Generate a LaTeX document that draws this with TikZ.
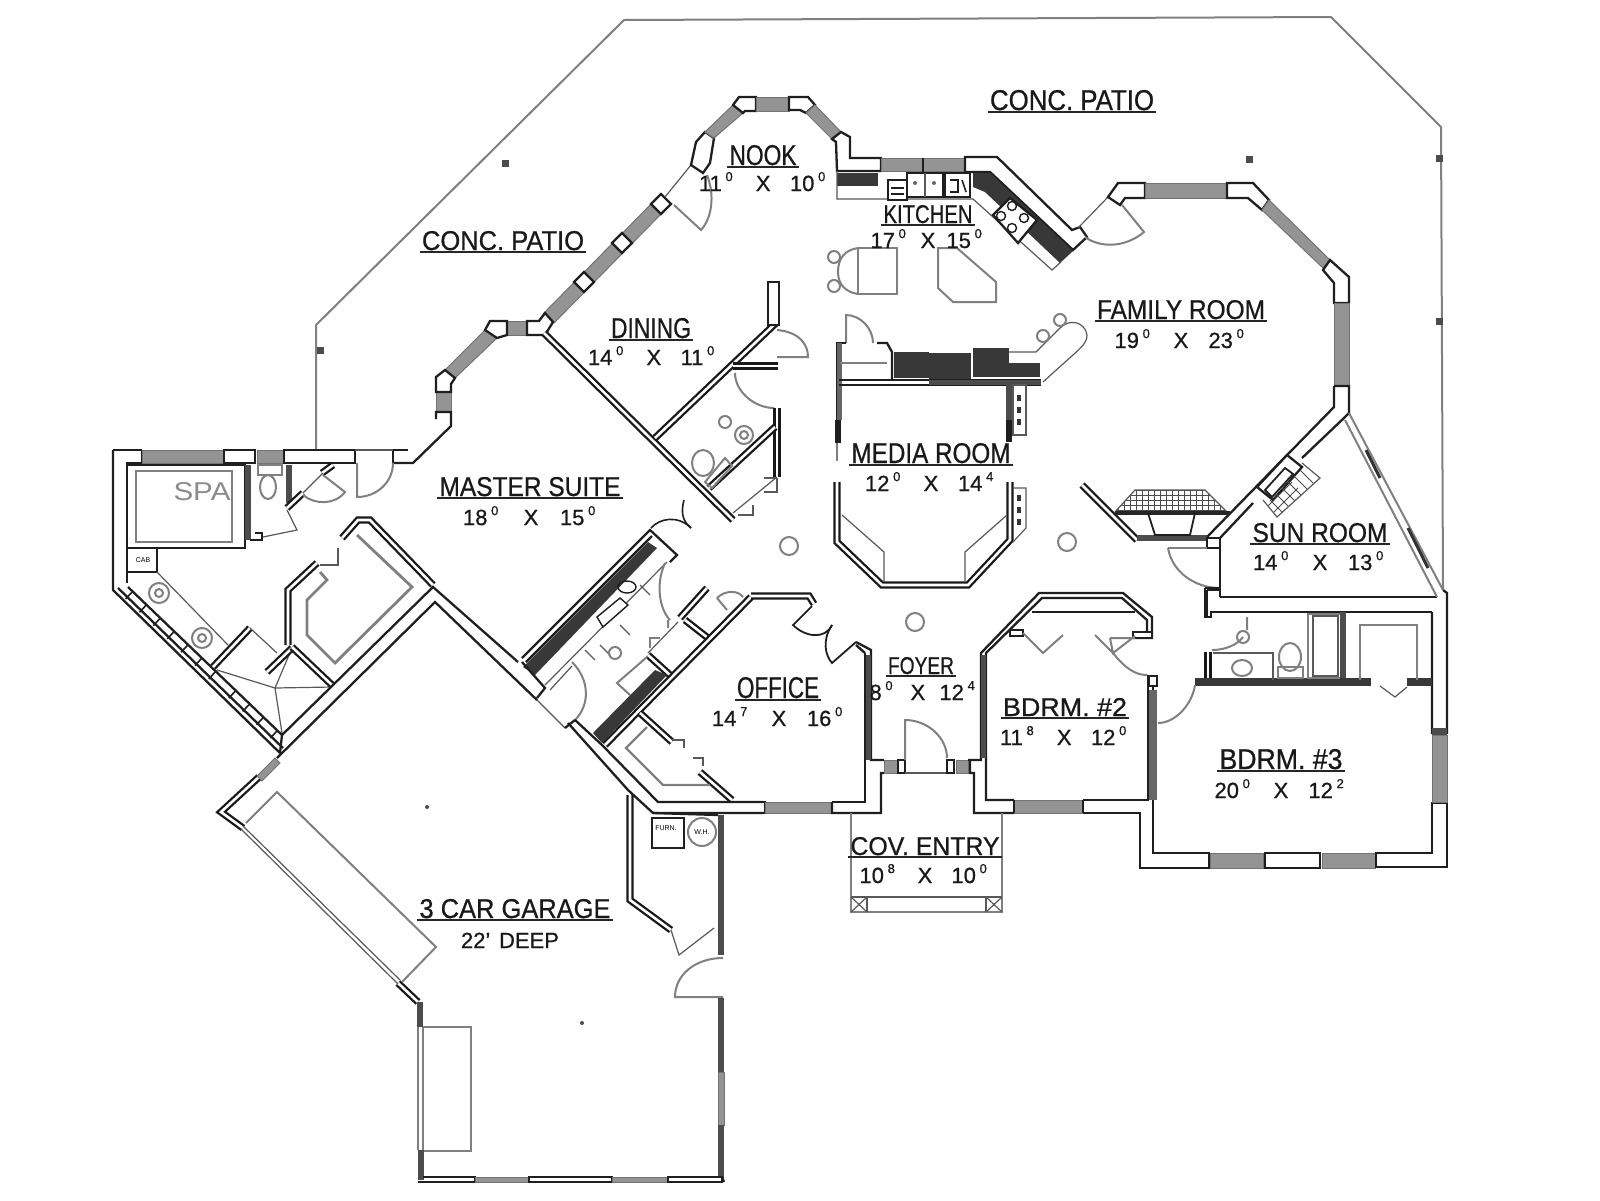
\documentclass[tikz,border=0pt]{standalone}
\usepackage{fontspec}
\usepackage{graphicx}
\setmainfont{Liberation Sans}[BoldFont={Liberation Sans},BoldFeatures={FakeBold=0.7}]
\newdimen\pxu \pxu=0.5pt
\newcommand\up[1]{\raisebox{0.45em}{\fontsize{6.5pt}{6.5pt}\selectfont #1}\,}
\tikzset{
 wl/.style={draw=black!88,line width=1.15pt,line join=miter,fill=white},
 ln/.style={draw=black!88,line width=1.15pt,line join=miter},
 dw/.style={draw=black!90,line width=3.6pt,line join=miter,postaction={draw=white,line width=1.3pt}},
 dk/.style={draw=black!70,line width=3pt,line cap=butt},
 win/.style={draw=black!55,fill=black!42,line width=0.5pt},
 tn/.style={draw=black!65,line width=0.6pt},
 gy/.style={draw=black!50,line width=1pt},
 under/.style={draw=black!85,line width=1.2pt},
 txt/.style={inner sep=0pt,anchor=base,font=\bfseries\fontsize{11pt}{11pt}\selectfont,text=black!90}
}
\newcommand\lab[6]{\node[inner sep=0pt,anchor=base,text=black!90,font=\bfseries] (#1) at (#2,#3) {\resizebox{#4\pxu}{#5\pxu}{#6}};
 \draw[under] ([xshift=-1pt,yshift=-1.1pt]#1.base west) -- ([xshift=1pt,yshift=-1.1pt]#1.base east);}
\newcommand\dm[6]{\node[txt] (#1) at (#2,#3) {\makebox[#4\pxu][s]{#5\hfil X\hfil #6}};}
\begin{document}
\begin{tikzpicture}[x=0.5pt,y=-0.5pt]
\useasboundingbox (0,0) rectangle (1600,1200);
\fill[white] (0,0) rectangle (1600,1200);
% patio outline
\draw[gy] (316,450) -- (316,325) -- (624,20) -- (1331,17) -- (1441,127) -- (1443,590);
\foreach \p in {(320,350),(505,163),(1249,159),(1439,158),(1439,321)} \fill[black!70] \p ++(-3.5,-3.5) rectangle ++(7,7);
% ===== master bay
\filldraw[win] (436,392) rectangle (451,412);
\draw[ln] (393,463) -- (413,463) -- (451,426) -- (451,412) -- (436,412) -- (436,419);
\draw[ln] (408,450) -- (393,450) -- (393,463);
\filldraw[win] (445,370) -- (455,378) -- (497,338) -- (485,330) -- cycle;
\draw[wl] (436,392) -- (436,377) -- (445,370) -- (455,378) -- (451,384) -- (451,392) -- cycle;
\filldraw[win] (507,321) rectangle (527,335);
\draw[wl] (485,330) -- (490,321) -- (507,321) -- (507,335) -- (497,338) -- cycle;
\filldraw[win] (544,313) -- (554,323) -- (666,209) -- (656,199) -- cycle;
\draw[wl] (527,321) -- (539,321) -- (545,313) -- (553,322) -- (545,335) -- (527,335) -- cycle;
\foreach \p in {(584,282),(622,243),(661,204)} \draw[wl] \p ++(-10,0) -- ++(10,-10) -- ++(10,10) -- ++(-10,10) -- cycle;
% ===== nook
\draw[tn] (665,197) -- (691,165);
\draw[gy] (674,205) -- (701,230) .. controls (712,218) and (715,195) .. (707,175);
\draw[wl] (691,165) -- (696,142) -- (705,132) -- (714,138) -- (710,163) -- (703,173) -- cycle;
\filldraw[win] (705,132) -- (714,138) -- (743,113) -- (733,105) -- cycle;
\draw[wl] (733,105) -- (739,97) -- (756,97) -- (756,111) -- (745,111) -- (743,113) -- cycle;
\filldraw[win] (756,97) rectangle (789,111);
\draw[wl] (789,97) -- (808,97) -- (815,105) -- (806,113) -- (800,110) -- (789,110) -- cycle;
\filldraw[win] (815,105) -- (806,113) -- (832,139) -- (841,132) -- cycle;
\draw[wl] (841,132) -- (850,137) -- (850,158) -- (881,158) -- (881,171) -- (837,171) -- (836,142) -- (832,139) -- cycle;
\filldraw[win] (881,158) rectangle (965,171);
\draw[ln] (923,158) -- (923,172);
\draw[wl] (965,157) -- (997,157) -- (1072,230) -- (1080,227) -- (1087,237) -- (1073,250) -- (990,172) -- (965,172) -- cycle;
% ===== kitchen
\fill[black!78] (837,173) rectangle (878,186);
\fill[black!78] (973,173) -- (990,173) -- (1073,251) -- (1060,263) -- (985,192) -- (973,187) -- cycle;
\draw[tn] (837,171) -- (837,199) -- (973,199) -- (1052,270) -- (1061,262);
\draw[wl] (888,180) rectangle (907,200);
\draw[ln,line width=0.6pt] (891,188) -- (904,188) (891,194) -- (904,194);
\draw[wl,line width=.7pt] (907,173) rectangle (943,197); \draw[tn] (925,173) -- (925,197);
\fill[black!60] (915,183) circle (2) (934,183) circle (2);
\draw[wl] (945,173) rectangle (970,197); \draw[ln,line width=.8pt] (950,180) -- (958,180) -- (958,192) -- (950,192) (962,180) -- (966,192);
\draw[wl] (993,215) -- (1010,198) -- (1037,220) -- (1018,243) -- cycle;
\foreach \p in {(1001,216),(1012,228),(1012,206),(1024,218)} \draw[ln,line width=.7pt] \p circle (4.5);
% islands
\draw[gy] (897,294) -- (858,294) -- (858,248) -- (897,248) -- cycle;
\draw[gy] (858,248) .. controls (845,250) and (838,258) .. (838,272) .. controls (838,284) and (845,292) .. (858,294);
\draw[gy,fill=white] (834,257) circle (6) (834,286) circle (6);
\draw[gy] (938,248) -- (957,248) -- (996,282) -- (996,302) -- (953,302) -- (938,288) -- cycle;
% ===== dining & bath
\draw[dw] (544,333) -- (733,520);
\draw[dw] (655,438) -- (776,323);
\draw[wl,line width=.9pt] (768,282) rectangle (779,325);
\draw[dw] (733,366) -- (778,366);
\draw[gy] (777,330) .. controls (800,332) and (808,345) .. (808,357) -- (777,357);
\draw[gy] (735,373) .. controls (735,392) and (755,408) .. (774,408);
\draw[dw] (777,408) -- (777,477);
\draw[dw] (709,488) -- (775,427);
\draw[tn] (733,513) -- (777,477);
\draw[tn] (764,478) -- (777,478) (777,478) -- (777,492) -- (764,492) (753,505) -- (753,515) -- (738,515);
\draw[gy] (703,463) ellipse (11 and 13);
\draw[gy] (705,482) -- (725,458) -- (732,466) -- (712,488) -- cycle;
\draw[gy] (744,435) circle (9) (725,422) circle (6);
\draw[gy] (744,435) circle (4);
% master bath door
\draw[ln,line width=.8pt] (684,500) .. controls (680,515) and (684,522) .. (691,528);
\draw[ln,line width=.8pt] (651,528) .. controls (660,518) and (678,515) .. (691,528);
% ===== west wing
\draw[ln] (113,450) -- (113,590) -- (280,753);
\draw[ln] (118,588) -- (283,748);
\draw[ln] (113,450) -- (142,450) (127,583) -- (127,463) -- (142,463) -- (142,450);
\filldraw[win] (142,450) rectangle (224,463);
\draw[wl] (224,450) rectangle (255,463);
\filldraw[win] (257,450) rectangle (283,463);
\draw[wl] (284,450) rectangle (355,463);
\draw[tn] (355,450) -- (393,450);
\draw[gy] (357,463) -- (357,497) .. controls (377,497) and (393,482) .. (393,463);
\foreach \t in {0.03,0.12,0.21,0.30,0.39,0.48,0.57,0.70,0.79,0.88,0.97} \draw[ln,line width=.8pt] ({128+154*\t},{587+148*\t}) -- ++(-7,7.5);
\draw[ln] (128,587) -- (282,735);
\draw[wl,line width=.8pt] (127,465) -- (245,465) -- (245,548) -- (127,548) -- cycle;
\draw[gy,line width=1.3pt] (136,471) rectangle (232,542);
\draw[dk] (247.5,465) -- (247.5,540);
\draw[ln] (250,540) -- (262,540) -- (262,533) -- (255,533);
\draw[tn] (263,537) -- (297,530) -- (287,510);
\draw[dk] (289,465) -- (289,503);
\draw[gy] (268,487) ellipse (8 and 12);
\draw[gy] (258,465) rectangle (282,475);
\draw[dw] (287,508) -- (303,493);
\draw[dw] (322,473) -- (333,465);
\draw[tn] (303,493) -- (323,473);
\draw[gy] (323,475) -- (345,492) .. controls (335,505) and (315,505) .. (303,495);
\draw[wl,line width=.8pt] (127,548) rectangle (157,572);
\draw[tn] (157,572) -- (228,645);
\draw[gy] (159,593) circle (10) (202,638) circle (10);
\draw[gy] (159,593) circle (4) (202,638) circle (4);
\draw[dw] (213,667) -- (250,628);
\draw[tn] (250,628) -- (277,653);
\draw[tn] (217,670) -- (275,688) -- (292,648) (275,688) -- (332,687) (275,688) -- (282,733);
\draw[dw] (288,645) -- (288,590) -- (317,563);
\draw[dw] (267,672) -- (292,648);
\draw[dw] (292,647) -- (332,685);
\draw[tn] (338,548) -- (338,565) -- (320,565);
\draw[dw] (342,538) -- (358,520) -- (370,520) -- (433,585);
\draw[gy,line width=1.4pt] (320,572) -- (327,580) -- (307,600) -- (307,635) -- (335,663) -- (412,587) -- (357,535);
% main long diagonal walls
\draw[ln] (282,735) -- (433,587) -- (518,662);
\draw[ln] (277,758) -- (435,602) -- (537,700);
\draw[ln] (282,735) -- (280,753);
\draw[tn] (537,700) -- (565,728);
% ===== master closet + laundry
\draw[ln] (522,658) -- (650,530) -- (677,555) -- (670,562);
\draw[ln] (526,662) -- (652,536);
\fill[black!78] (523,667) -- (648,542) -- (657,548) -- (535,675) -- cycle;
\draw[ln] (522,662) -- (545,688) -- (537,698);
\draw[tn] (545,685) -- (667,562) (550,690) -- (572,666);
\draw[tn] (585,650) -- (595,660) (600,645) -- (610,655) (620,625) -- (630,635) (650,595) -- (640,585);
\draw[wl,line width=.7pt] (597,617) -- (620,598) -- (628,605) -- (603,627) -- cycle;
\draw[ln,line width=.7pt] (627,587) ellipse (9 and 6);
\draw[gy] (572,662) .. controls (590,680) and (590,705) .. (575,720);
\draw[gy] (665,563) .. controls (655,585) and (660,610) .. (670,620) (668,628) -- (668,620);
\draw[dw] (707,588) -- (680,618);
\draw[dw] (685,620) -- (708,638);
\draw[gy] (717,598) -- (727,610) (717,598) .. controls (725,590) and (738,590) .. (743,597);
\draw[tn] (678,622) -- (648,653);
\draw[gy] (650,648) -- (650,638) -- (660,638);
\draw[dw] (648,655) -- (670,675);
\draw[gy] (647,657) -- (617,683) -- (630,695);
\fill[black!78] (667,675) -- (602,743) -- (593,733) -- (655,670) -- cycle;
\draw[dw] (751,597) -- (605,745);
\draw[dw] (751,596) -- (809,596) -- (814,604);
\draw[ln] (575,720) -- (602,745) -- (658,802) -- (763,802);
\draw[ln] (568,723) -- (628,790) -- (653,813) -- (763,813);
\draw[ln] (763,802) -- (765,802) -- (765,813) -- (763,813);
\draw[ln] (565,728) -- (575,720);
% office
\draw[ln,line width=.9pt] (812,606) -- (793,625) .. controls (805,637) and (825,640) .. (832,625);
\draw[ln,line width=.9pt] (832,625) .. controls (822,640) and (825,655) .. (832,663) -- (856,642);
\draw[dw] (640,713) -- (672,742);
\draw[tn] (672,740) -- (684,740) -- (684,748) (693,758) -- (703,758) -- (703,766);
\draw[dw] (700,772) -- (732,800);
\draw[gy,line width=1.2pt] (647,727) -- (626,748) -- (663,785) -- (710,785);
\filldraw[win] (765,802) rectangle (832,813);
\draw[wl] (832,802) -- (865,802) -- (865,653);
\draw[ln] (832,802) -- (832,813) -- (881,813) -- (881,773) -- (884,773) (884,760) -- (871,760) -- (871,650) -- (856,642) (865,653) -- (856,645);
\fill[black!70] (866,655) rectangle (870.5,760);
% foyer
\filldraw[win] (884,760) rectangle (897,773);
\draw[wl,line width=.9pt] (898,760) rectangle (905,773);
\draw[gy] (905,760) -- (905,720) .. controls (928,720) and (947,738) .. (947,758);
\draw[tn] (905,773) -- (947,773);
\draw[wl,line width=.9pt] (947,760) rectangle (954,773);
\filldraw[win] (956,760) rectangle (968,773);
\draw[ln] (968,760) -- (981,760) -- (981,653) -- (1039,593) -- (1123,593) -- (1152,617) -- (1152,638) -- (1133,638);
\draw[ln] (970,760) -- (970,773) -- (974,773) -- (974,813) -- (1014,813) (1014,800) -- (986,800) -- (986,653) -- (1042,598) -- (1122,598) -- (1147,620) -- (1147,633) -- (1133,633);
\fill[black!70] (981,655) rectangle (986,758);
\draw[wl] (1010,630) rectangle (1023,636) (1133,632) rectangle (1152,638);
\draw[ln] (1032,612) -- (1135,612);
\draw[gy] (1023,633) -- (1043,653) -- (1063,635) (1095,635) -- (1113,653) (1110,638) -- (1135,638) (1110,638) -- (1113,653) -- (1135,636);
\draw[gy] (1113,653) .. controls (1125,668) and (1135,675) .. (1147,675);
% entry
\draw[gy] (851,813) -- (851,912) -- (1002,912) -- (1002,813);
\draw[tn] (867,897) -- (986,897) -- (986,912) (867,897) -- (867,912) (851,897) -- (867,897) (986,897) -- (1002,897);
\draw[tn] (851,897) -- (867,912) (867,897) -- (851,912) (986,897) -- (1002,912) (1002,897) -- (986,912);
% ===== bdrm 2
\filldraw[win] (1014,800) rectangle (1083,813);
\draw[ln] (1014,800) -- (1014,813) (1083,800) -- (1083,813);
\draw[ln] (1083,800) -- (1148,800) -- (1148,675) (1153,675) -- (1153,853) -- (1209,853) -- (1209,868) -- (1140,868) -- (1140,813) -- (1083,813);
\fill[black!60] (1149,690) rectangle (1157,800);
\draw[wl] (1149,676) rectangle (1157,686);
\filldraw[win] (1210,853) rectangle (1263,868);
\draw[wl] (1265,853) rectangle (1320,868);
\filldraw[win] (1322,853) rectangle (1375,868);
\draw[wl] (1376,853) -- (1432,853) -- (1432,803) -- (1447,803) -- (1447,867) -- (1376,867) -- cycle;
\filldraw[win] (1432,735) rectangle (1447,802);
\draw[ln] (1432,612) -- (1432,733) -- (1447,733) -- (1447,593) -- (1443,590);
\fill[black!70] (1432,728) rectangle (1447,735);
% ===== bath bdrm 3
\draw[ln] (1207,590) -- (1207,617) -- (1211,617) -- (1211,612) -- (1432,612);
\draw[ln] (1207,590) -- (1220,590);
\draw[ln] (1220,597) -- (1437,597);
\draw[ln] (1220,538) -- (1220,597);
\draw[dw] (1208,652) -- (1208,682);
\fill[black!78] (1195,678) rectangle (1371,686);
\fill[black!78] (1407,678) rectangle (1432,686);
\draw[tn] (1380,686) -- (1395,697) -- (1407,687);
\draw[gy] (1212,650) .. controls (1225,650) and (1237,645) .. (1243,637) (1247,617) -- (1247,630);
\draw[gy] (1243,637) circle (6);
\draw[tn] (1213,653) -- (1273,653) -- (1273,680);
\draw[gy] (1242,668) ellipse (10 and 8);
\draw[gy] (1290,657) ellipse (11 and 14);
\draw[gy] (1278,667) rectangle (1303,678);
\draw[gy,line width=1.4pt] (1308,613) -- (1308,678) -- (1340,678) (1340,614) -- (1308,614);
\draw[tn] (1313,616) rectangle (1338,676);
\fill[black!70] (1340,612) rectangle (1346,678);
\draw[gy,line width=1.3pt] (1360,680) -- (1360,625) -- (1417,625) -- (1417,680);
\draw[gy] (1195,685) .. controls (1192,705) and (1175,723) .. (1158,723);
% ===== family + sun room
\draw[tn] (1078,228) -- (1108,197);
\draw[wl] (1108,197) -- (1118,183) -- (1145,183) -- (1145,198) -- (1125,198) -- (1120,205) -- cycle;
\draw[gy] (1122,205) -- (1144,232) .. controls (1125,248) and (1100,248) .. (1085,237);
\filldraw[win] (1145,183) rectangle (1227,198);
\draw[wl] (1227,183) -- (1253,183) -- (1269,200) -- (1262,210) -- (1248,198) -- (1227,198) -- cycle;
\filldraw[win] (1269,200) -- (1262,210) -- (1323,268) -- (1330,260) -- cycle;
\draw[wl] (1330,260) -- (1349,277) -- (1349,303) -- (1334,303) -- (1334,283) -- (1323,270) -- cycle;
\filldraw[win] (1334,303) rectangle (1349,386);
\draw[ln] (1334,386) -- (1349,386) -- (1349,413) -- (1345,417) -- (1302,458);
\draw[ln] (1334,386) -- (1334,407) -- (1207,537);
\draw[ln] (1253,503) -- (1220,538);
\draw[ln] (1207,548) -- (1220,548);
\draw[gy] (1349,413) -- (1443,590) (1345,420) -- (1437,597);
\draw[black!80,line width=1.5pt] (1366,450) -- (1380,478) (1408,528) -- (1428,568);
% sun room fireplace
\draw[wl] (1257,487) -- (1287,455) -- (1302,467) -- (1273,500) -- cycle;
\draw[wl,line width=.9pt] (1265,490) -- (1285,468) -- (1293,474) -- (1272,497) -- cycle;
\begin{scope}
\clip (1302,463) -- (1320,478) -- (1277,517) -- (1263,500) -- (1273,500) -- cycle;
\foreach \i in {0,...,12} {\draw[black!70,line width=.5pt] ({1250+\i*6},{440+\i*6}) -- ++(-40,40);\draw[black!70,line width=.5pt] ({1330-\i*6},{440+\i*6}) -- ++(40,40);}
\end{scope}
\draw[tn] (1302,463) -- (1320,478) -- (1277,517) -- (1263,500);
% family fireplace
\draw[dw] (1082,485) -- (1137,540);
\draw[dk] (1137,538) -- (1207,538);
\begin{scope}
\clip (1115,512) -- (1135,490) -- (1205,490) -- (1227,512) -- cycle;
\foreach \i in {0,...,20} \draw[black!70,line width=.5pt] ({1112+\i*6},488) -- ++(0,25);
\foreach \i in {0,...,4} \draw[black!70,line width=.5pt] (1110,{490+\i*5}) -- ++(125,0);
\end{scope}
\draw[tn] (1115,512) -- (1135,490) -- (1205,490) -- (1227,512);
\draw[black!85,line width=1.6pt] (1115,513) -- (1230,513);
\draw[ln,line width=.9pt] (1148,513) -- (1155,535) -- (1190,535) -- (1195,513);
\draw[wl] (1207,538) -- (1220,538) -- (1220,548) -- (1207,548) -- cycle;
\draw[gy] (1168,548) -- (1207,548);
\draw[gy] (1168,548) .. controls (1172,572) and (1195,588) .. (1220,588);
\draw[ln] (1205,588) -- (1220,588) (1205,588) -- (1205,617) -- (1210,617);
% ===== media
\fill[black!78] (894,352) rectangle (929,378);
\fill[black!78] (929,353) rectangle (971,382);
\fill[black!78] (973,348) rectangle (1009,377);
\fill[black!78] (1009,363) rectangle (1040,377);
\draw[gy] (846,343) -- (846,315) .. controls (860,315) and (873,328) .. (873,343);
\draw[ln] (846,343) -- (837,343) -- (837,442);
\fill[black!60] (837,343) rectangle (842,420);
\fill[black!88] (835,420) rectangle (841,443);
\draw[gy] (837,443) -- (837,461);
\draw[ln] (877,343) -- (887,343) -- (892,352) -- (892,380);
\draw[gy] (840,363) -- (887,363);
\draw[ln] (839,380) -- (1041,380) (839,385) -- (1041,385);
\fill[black!70] (929,380) rectangle (1041,385);
\draw[tn] (1009,352) -- (1036,352) -- (1060,328) .. controls (1070,318) and (1085,322) .. (1087,335) .. controls (1087,345) and (1080,348) .. (1043,382);
\draw[gy,fill=white] (1060,320) circle (6) (1043,336) circle (6);
\draw[dk] (1009,385) -- (1009,420);
\fill[black!88] (1006,420) rectangle (1012,442);
\draw[tn] (1013,385) rectangle (1026,435);
\draw[black!80,line width=1.6pt,dashed] (1019,395) -- (1019,425);
\draw[dw] (837,482) -- (837,542) -- (882,585) -- (968,585) -- (1010,540) -- (1010,482);
\draw[tn] (842,515) -- (884,552) -- (884,582) (965,582) -- (965,552) -- (1007,515);
\draw[tn] (1013,488) -- (1026,488) -- (1026,528) -- (1013,542);
\draw[black!80,line width=1.6pt,dashed] (1019,495) -- (1019,525);
\draw[gy] (789,546) circle (9) (915,622) circle (9) (1067,542) circle (9) (615,653) circle (6);
% ===== garage
\draw[dw] (630,795) -- (630,900) -- (671,930);
\draw[ln] (653,813) -- (718,815);
\draw[tn] (671,930) -- (679,955) -- (714,928);
\draw[dk] (720.5,815) -- (720.5,955);
\draw[gy] (723,958) .. controls (695,958) and (675,975) .. (675,997) -- (723,997);
\draw[dk] (720.5,998) -- (720.5,1072);
\filldraw[win] (718,1072) rectangle (724,1125);
\draw[dk] (720.5,1125) -- (720.5,1180);
\draw[wl,line width=.8pt] (652,818) rectangle (684,848);
\draw[gy] (702,832) circle (14);
\draw[dw] (418,1002) -- (398,983);
\draw[dk] (420,1002) -- (420,1027);
\draw[gy] (418,1027) -- (418,1150) (423,1027) -- (423,1150);
\draw[gy] (423,1027) -- (471,1027) -- (471,1151) -- (423,1151);
\draw[dk] (420.5,1150) -- (420.5,1180);
\draw[ln] (418,1182) -- (475,1182) -- (475,1177) -- (423,1177);
\filldraw[win] (475,1177) rectangle (528,1182);
\draw[wl] (529,1177) rectangle (612,1182);
\filldraw[win] (612,1177) rectangle (667,1182);
\draw[wl] (668,1177) rectangle (722,1182);
\draw[ln] (722,1177) -- (724,1182);
\draw[dw] (259,777) -- (221,812) -- (243,828);
\draw[tn] (243,826) -- (400,980) (241,829) -- (398,984);
\draw[gy] (246,823) -- (277,792) -- (436,947) -- (402,982);
\filldraw[win] (275,758) -- (257,776) -- (262,781) -- (280,763) -- cycle;
\fill[black!70] (427,807) circle (2) (582,1023) circle (2);
% ===== text
\lab{patiotop}{1072}{110}{164}{20}{CONC. PATIO}
\lab{patioleft}{503}{250}{162}{19}{CONC. PATIO}
\lab{nook}{763}{165}{67}{20}{NOOK}
\lab{kitchen}{928}{223}{89}{18}{KITCHEN}
\lab{dining}{651}{338}{80}{20}{DINING}
\lab{family}{1181}{319}{168}{19}{FAMILY  ROOM}
\lab{media}{931}{463}{159}{20}{MEDIA  ROOM}
\lab{master}{530}{496}{181}{19}{MASTER  SUITE}
\lab{sun}{1320}{542}{135}{19}{SUN  ROOM}
\lab{office}{778}{698}{82}{21}{OFFICE}
\lab{foyer}{921}{674}{66}{17}{FOYER}
\lab{bdrmb}{1065}{716}{124}{18}{BDRM.  \#2}
\lab{bdrmc}{1281}{769}{123}{20}{BDRM.  \#3}
\lab{cov}{925}{855}{149}{18}{COV.  ENTRY}
\lab{garage}{515}{918}{191}{19}{3 CAR  GARAGE}
\dm{dnook}{764}{191}{130}{11\,\up{0}}{10\,\up{0}}
\dm{dkitchen}{928}{248}{115}{17\,\up{0}}{15\,\up{0}}
\dm{ddining}{653}{365}{130}{14\,\up{0}}{11\,\up{0}}
\dm{dfamily}{1181}{348}{133}{19\,\up{0}}{23\,\up{0}}
\dm{dmedia}{931}{491}{132}{12\,\up{0}}{14\,\up{4}}
\dm{dmaster}{531}{525}{136}{18\,\up{0}}{15\,\up{0}}
\dm{dsun}{1320}{570}{134}{14\,\up{0}}{13\,\up{0}}
\dm{doffice}{779}{726}{134}{14\,\up{7}}{16\,\up{0}}
\dm{dfoyer}{924}{700}{109}{8\,\up{0}}{12\,\up{4}}
\dm{dbdrmb}{1065}{745}{130}{11\,\up{8}}{12\,\up{0}}
\dm{dbdrmc}{1281}{798}{133}{20\,\up{0}}{12\,\up{2}}
\dm{dcov}{925}{883}{131}{10\,\up{8}}{10\,\up{0}}
\node[txt] (deep) at (510,948) {\makebox[98\pxu][s]{22'\hfil DEEP}};
\node[inner sep=0pt,text=black!45] (spa) at (202,492) {\resizebox{57\pxu}{18\pxu}{SPA}};
\node[inner sep=0pt,font=\fontsize{3.5pt}{4pt}\selectfont] (cab) at (143,560) {CAB};
\node[inner sep=0pt,font=\fontsize{3.5pt}{4pt}\selectfont] (furn) at (666,828) {FURN.};
\node[inner sep=0pt,font=\fontsize{3.5pt}{4pt}\selectfont] (wh) at (702,832) {W.H.};
\end{tikzpicture}
\end{document}
